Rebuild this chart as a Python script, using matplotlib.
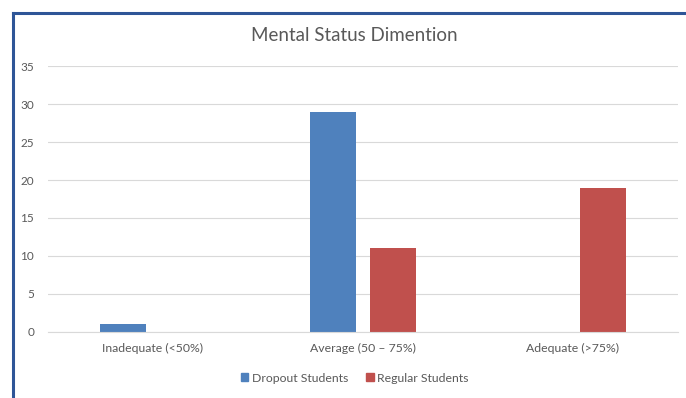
import numpy as np
import matplotlib.pyplot as plt
from matplotlib.lines import Line2D
from matplotlib.patches import Patch

categories = ['Inadequate (<50%)', 'Average (50 – 75%)', 'Adequate (>75%)']
dropout = [1, 29, 0]
regular = [0, 11, 19]
series = ['Dropout Students', 'Regular Students']
colors = ['#4F81BD', '#C0504D']

plt.rcParams['font.family'] = ['Lato', 'DejaVu Sans']

fig = plt.figure(figsize=(6.86, 3.98), dpi=100)
ax = fig.add_axes([0.07, 0.166, 0.918, 0.668])

x = np.arange(len(categories))
w = 0.22
off = 0.143
ax.bar(x - off, dropout, w, color=colors[0], label=series[0])
ax.bar(x + off, regular, w, color=colors[1], label=series[1])

ax.set_xlim(-0.5, 2.5)
ax.set_ylim(0, 35)
ax.set_yticks(range(0, 36, 5))
ax.set_xticks(x)
ax.set_xticklabels(categories, fontsize=8.8)
ax.tick_params(axis='both', length=0, labelcolor='#595959')
ax.tick_params(axis='y', labelsize=8.5, pad=10)
ax.tick_params(axis='x', pad=8)
ax.yaxis.grid(True, color='#D9D9D9', linewidth=0.8)
ax.set_axisbelow(True)
for s in ['top', 'right', 'left']:
    ax.spines[s].set_visible(False)
ax.spines['bottom'].set_color('#D9D9D9')

fig.text(0.516, 0.91, 'Mental Status Dimention', ha='center', va='center',
         fontsize=13.5, color='#595959')

handles = [Patch(color=c) for c in colors]
fig.legend(handles, series, loc='center', bbox_to_anchor=(0.517, 0.05), ncol=2,
           frameon=False, fontsize=8.8, handlelength=0.6, handleheight=0.6,
           handletextpad=0.3, columnspacing=1.5, labelcolor='#595959')

# dark blue frame on left and top
fig.add_artist(Line2D([0.019, 0.019], [0, 0.968], color='#2E5597', lw=2.2))
fig.add_artist(Line2D([0.019, 1.0], [0.968, 0.968], color='#2E5597', lw=2.2))

fig.savefig('out.png', dpi=100)
